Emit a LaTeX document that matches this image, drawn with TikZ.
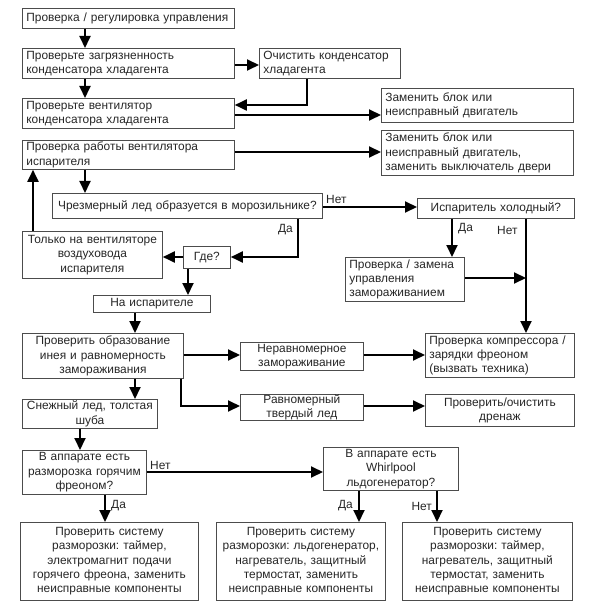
\documentclass[tikz,border=0pt]{standalone}
\usepackage{fontspec}
\setmainfont{Liberation Sans}
\frenchspacing
\usetikzlibrary{arrows.meta}
\tikzset{
  box/.style={draw=black!70, line width=0.8pt, inner xsep=4pt, inner ysep=0pt, text=black!85,
    font=\fontsize{11.9}{14.3}\selectfont},
  arr/.style={line width=1.9pt, -{Triangle[length=12pt,width=11pt]}},
  lbl/.style={font=\fontsize{11.9}{14}\selectfont, text=black!85, inner sep=1pt}
}
\newcommand{\bx}[7]{%
  \pgfmathsetmacro\bw{#4-#2-8}\pgfmathsetmacro\bh{#5-#3}%
  \node[box, text width=\bw pt, minimum height=\bh pt, align=#6, anchor=north west] (#1) at (#2,#3) {#7};}
\begin{document}
\begin{tikzpicture}[x=1pt,y=-1pt]
\useasboundingbox (0,0) rectangle (600,612);
\bx{b1}{22}{8}{234}{28}{left}{Проверка / регулировка управления}
\bx{b2}{22}{48}{234}{78}{left}{Проверьте загрязненность\\конденсатора хладагента}
\bx{b3}{259}{48}{400}{78}{left}{Очистить конденсатор\\хладагента}
\bx{b4}{22}{98}{234}{128}{left}{Проверьте вентилятор\\конденсатора хладагента}
\bx{b5}{381}{88}{573}{122}{left}{Заменить блок или\\неисправный двигатель}
\bx{b6}{22}{140}{234}{169}{left}{Проверка работы вентилятора\\испарителя}
\bx{b7}{381}{130}{573}{175}{left}{Заменить блок или\\неисправный двигатель,\\заменить выключатель двери}
\bx{ice}{52}{193}{322}{218}{center}{Чрезмерный лед образуется в морозильнике?}
\bx{only}{22}{231}{162}{278}{center}{Только на вентиляторе\\воздуховода\\испарителя}
\bx{gde}{183}{246}{230}{268}{center}{Где?}
\bx{onev}{93}{295}{210}{312}{center}{На испарителе}
\bx{cold}{417}{198}{574}{218}{center}{Испаритель холодный?}
\bx{zam}{345}{257}{464}{301}{left}{Проверка / замена\\управления\\замораживанием}
\bx{frost}{22}{333}{183}{378}{center}{Проверить образование\\инея и равномерность\\замораживания}
\bx{uneven}{240}{342}{363}{370}{center}{Неравномерное\\замораживание}
\bx{comp}{425}{333}{574}{377}{left}{Проверка компрессора /\\зарядки фреоном\\(вызвать техника)}
\bx{even}{240}{394}{363}{420}{center}{Равномерный\\твердый лед}
\bx{drain}{425}{394}{574}{426}{center}{Проверить/очистить\\дренаж}
\bx{snow}{22}{399}{157}{428}{center}{Снежный лед, толстая\\шуба}
\bx{hot}{22}{450}{146}{494}{center}{В аппарате есть\\разморозка горячим\\фреоном?}
\bx{whirl}{323}{447}{458}{490}{center}{В аппарате есть\\Whirlpool\\льдогенератор?}
\bx{bot1}{20}{522}{198}{600}{center}{Проверить систему\\разморозки: таймер,\\электромагнит подачи\\горячего фреона, заменить\\неисправные компоненты}
\bx{bot2}{216}{522}{385}{600}{center}{Проверить систему\\разморозки: льдогенератор,\\нагреватель, защитный\\термостат, заменить\\неисправные компоненты}
\bx{bot3}{402}{522}{572}{600}{center}{Проверить систему\\разморозки: таймер,\\нагреватель, защитный\\термостат, заменить\\неисправные компоненты}
% connectors
\draw[arr] (85,0 |- b1.south) -- (85,0 |- b2.north);
\draw[arr] (85,0 |- b2.south) -- (85,0 |- b4.north);
\draw[arr] (b2.east |- 0,65) -- (b3.west |- 0,65);
\draw[arr] (307,0 |- b3.south) -- (307,105) -- (b4.east |- 0,105);
\draw[arr] (b4.east |- 0,115) -- (b5.west |- 0,115);
\draw[arr] (b6.east |- 0,152) -- (b7.west |- 0,152);
\draw[arr] (85,0 |- b6.south) -- (85,0 |- ice.north);
\draw[arr] (33,0 |- only.north) -- (33,0 |- b6.south);
\draw[arr] (298,0 |- ice.south) -- (298,257) -- (gde.east |- 0,257);
\draw[arr] (gde.west |- 0,257) -- (only.east |- 0,257);
\draw[arr] (188,0 |- gde.south) -- (188,0 |- onev.north);
\draw[arr] (ice.east |- 0,207) -- (cold.west |- 0,207);
\draw[arr] (452,0 |- cold.south) -- (452,0 |- zam.north);
\draw[arr] (526,0 |- cold.south) -- (526,0 |- comp.north);
\coordinate (j1) at (526,278);
\draw[arr] (zam.east |- j1) -- (j1);
\draw[arr] (135,0 |- onev.south) -- (135,0 |- frost.north);
\draw[arr] (frost.east |- 0,355) -- (uneven.west |- 0,355);
\draw[arr] (uneven.east |- 0,355) -- (comp.west |- 0,355);
\draw[arr] (181,0 |- frost.south) -- (181,406) -- (even.west |- 0,406);
\draw[arr] (even.east |- 0,406) -- (drain.west |- 0,406);
\draw[arr] (135,0 |- frost.south) -- (135,0 |- snow.north);
\draw[arr] (80,0 |- snow.south) -- (80,0 |- hot.north);
\draw[arr] (hot.east |- 0,472) -- (whirl.west |- 0,472);
\draw[arr] (105,0 |- hot.south) -- (105,0 |- bot1.north);
\draw[arr] (359,0 |- whirl.south) -- (359,0 |- bot2.north);
\draw[arr] (437,0 |- whirl.south) -- (437,0 |- bot3.north);
% labels
\node[lbl, anchor=west] (l1) at (325,199) {Нет};
\node[lbl, anchor=east] (l2) at (294,230) {Да};
\node[lbl, anchor=west] (l3) at (457,229) {Да};
\node[lbl, anchor=west] (l4) at (496,230) {Нет};
\node[lbl, anchor=west] (l5) at (149,465) {Нет};
\node[lbl, anchor=west] (l6) at (110,506) {Да};
\node[lbl, anchor=east] (l7) at (354,506) {Да};
\node[lbl, anchor=east] (l8) at (433,506) {Нет};
\end{tikzpicture}
\end{document}
